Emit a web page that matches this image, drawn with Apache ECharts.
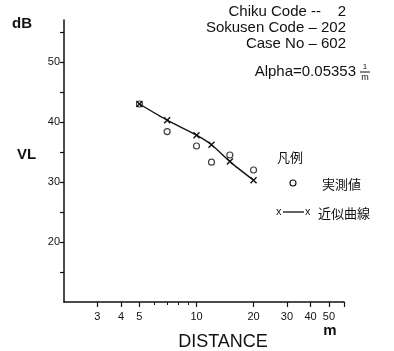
<!DOCTYPE html>
<html><head><meta charset="utf-8">
<script src="https://cdn.jsdelivr.net/npm/echarts@6/dist/echarts.min.js"></script>
<style>html,body{margin:0;padding:0;background:#fff}#c{width:394px;height:351px}</style>
</head><body><div id="c"></div>
<script>
const measuredDistance = [5, 7, 10, 12, 15, 20];
const measuredVL = [43.0, 38.4, 36.0, 33.3, 34.5, 32.0];
const fittedDistance = [5, 7, 10, 12, 15, 20];
const fittedVL = [43.0, 40.3, 37.8, 36.2, 33.4, 30.3];
const xMajorTicks = [3, 4, 5, 10, 20, 30, 40, 50, 60];
const xMinorTicks = [6, 7, 8, 9];
const xTickLabels = [3, 4, 5, 10, 20, 30, 40, 50];
const yTicks = [15, 20, 25, 30, 35, 40, 45, 50, 55];
const yTickLabels = [20, 30, 40, 50];
const infoLines = ['Chiku Code --    2', 'Sokusen Code \u2013 202', 'Case No \u2013 602'];
const alphaText = 'Alpha=0.05353';
const legendTitle = '凡例';
const legendMeasured = '実測値';
const legendFitted = '近似曲線';

const INK = '#111';
const FONT = '"Liberation Sans", Arial, sans-serif';
const CJK = '"Noto Sans CJK JP", sans-serif';

const chart = echarts.init(document.getElementById('c'), null, {renderer: 'canvas'});
const txt = (x, y, text, font, extra) => Object.assign({
  type: 'text', x: x, y: y,
  style: Object.assign({text: text, fill: INK, font: font, textVerticalAlign: 'middle'}, extra || {})
});

chart.setOption({
  animation: false,
  backgroundColor: '#fff',
  grid: {left: 64, top: 20, right: 50, bottom: 49, containLabel: false},
  xAxis: [{
    type: 'log', logBase: 10, min: 2, max: 60, position: 'bottom',
    axisLine: {show: true, lineStyle: {color: INK, width: 1.5}},
    axisTick: {show: true, length: 5, customValues: xMajorTicks, lineStyle: {color: INK, width: 1.2}},
    axisLabel: {customValues: xTickLabels, color: INK, fontSize: 11, fontFamily: FONT, margin: 9},
    splitLine: {show: false}, minorTick: {show: false}
  }, {
    type: 'log', logBase: 10, min: 2, max: 60, position: 'bottom',
    axisLine: {show: false},
    axisTick: {show: true, length: 3, customValues: xMinorTicks, lineStyle: {color: INK, width: 1}},
    axisLabel: {show: false}, splitLine: {show: false}
  }],
  yAxis: {
    type: 'value', min: 10, max: 57,
    axisLine: {show: true, lineStyle: {color: INK, width: 1.5}},
    axisTick: {show: true, length: 4, customValues: yTicks, lineStyle: {color: INK, width: 1.2}},
    axisLabel: {customValues: yTickLabels, color: INK, fontSize: 11, fontFamily: FONT, margin: 4},
    splitLine: {show: false}
  },
  series: [{
    type: 'scatter', xAxisIndex: 0,
    data: measuredDistance.map((d, i) => [d, measuredVL[i]]),
    symbol: 'circle', symbolSize: 6,
    itemStyle: {color: '#fff', borderColor: INK, borderWidth: 1.2},
    z: 2
  }, {
    type: 'line', xAxisIndex: 0,
    data: fittedDistance.map((d, i) => [d, fittedVL[i]]),
    smooth: 0.25,
    symbol: 'path://M0,0L10,10M10,0L0,10', symbolSize: 6,
    lineStyle: {color: INK, width: 1.4},
    itemStyle: {color: INK, borderColor: INK, borderWidth: 1.4},
    z: 3
  }],
  graphic: [
    txt(12, 24, 'dB', 'bold 15px ' + FONT),
    txt(17, 155, 'VL', 'bold 15px ' + FONT),
    txt(223, 342, 'DISTANCE', '18px ' + FONT, {textAlign: 'center'}),
    txt(330, 331, 'm', 'bold 15px ' + FONT, {textAlign: 'center'}),
    txt(346, 12, infoLines[0], '15px ' + FONT, {textAlign: 'right'}),
    txt(346, 28, infoLines[1], '15px ' + FONT, {textAlign: 'right'}),
    txt(346, 44, infoLines[2], '15px ' + FONT, {textAlign: 'right'}),
    txt(356, 72, alphaText, '15px ' + FONT, {textAlign: 'right'}),
    txt(365, 67, '1', '8px ' + FONT, {textAlign: 'center'}),
    {type: 'line', shape: {x1: 360, y1: 72, x2: 370, y2: 72}, style: {stroke: INK, lineWidth: 1}},
    txt(365, 78, 'm', '9px ' + FONT, {textAlign: 'center'}),
    txt(277, 157, legendTitle, '13px ' + CJK),
    {type: 'circle', shape: {cx: 293, cy: 183, r: 3}, style: {fill: '#fff', stroke: INK, lineWidth: 1.1}},
    txt(322, 184, legendMeasured, '13px ' + CJK),
    txt(276, 212, 'x', '11px ' + FONT),
    {type: 'line', shape: {x1: 283, y1: 212, x2: 304, y2: 212}, style: {stroke: INK, lineWidth: 1.3}},
    txt(305, 212, 'x', '11px ' + FONT),
    txt(318, 213, legendFitted, '13px ' + CJK)
  ]
});
</script>
</body></html>
